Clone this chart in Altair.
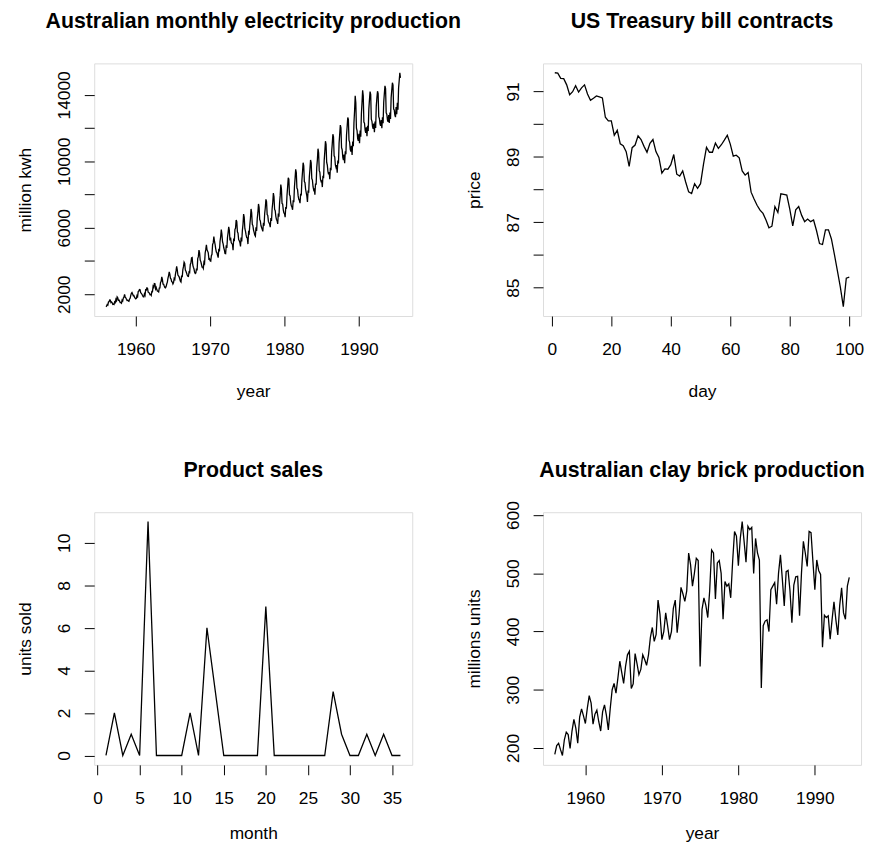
import altair as alt
import pandas as pd
import numpy as np

FONT = "Liberation Sans"

# ---------------- data ----------------
elec_start = 1956.0  # monthly, Jan 1956 - Aug 1995
elec_values = [
    1254, 1290, 1379, 1346, 1535, 1555, 1655, 1651, 1500, 1538, 1486, 1394,
    1409, 1387, 1543, 1502, 1693, 1616, 1841, 1787, 1631, 1649, 1586, 1500,
    1497, 1463, 1648, 1595, 1777, 1824, 1994, 1835, 1787, 1699, 1633, 1645,
    1597, 1577, 1709, 1756, 1936, 2052, 2105, 2016, 1914, 1925, 1824, 1765,
    1721, 1752, 1914, 1857, 2159, 2195, 2287, 2276, 2096, 2055, 2004, 1924,
    1851, 1839, 2019, 1937, 2270, 2251, 2382, 2364, 2129, 2110, 2072, 1980,
    1995, 1932, 2171, 2162, 2489, 2424, 2641, 2630, 2324, 2412, 2284, 2186,
    2184, 2144, 2379, 2383, 2717, 2774, 3051, 2891, 2613, 2600, 2493, 2410,
    2390, 2463, 2616, 2734, 2970, 3125, 3342, 3207, 2964, 2919, 2764, 2732,
    2622, 2698, 2950, 2895, 3200, 3408, 3679, 3473, 3154, 3107, 3052, 2918,
    2786, 2739, 3125, 3033, 3486, 3661, 3927, 3851, 3456, 3390, 3280, 3166,
    3080, 3069, 3340, 3310, 3798, 3883, 4191, 4213, 3766, 3628, 3520, 3322,
    3250, 3287, 3552, 3440, 4153, 4265, 4655, 4492, 4051, 3967, 3807, 3639,
    3647, 3560, 3929, 3858, 4485, 4697, 4977, 4675, 4596, 4491, 4127, 4144,
    4014, 3994, 4320, 4400, 5002, 5091, 5471, 5193, 4997, 4737, 4546, 4498,
    4350, 4206, 4743, 4582, 5191, 5457, 5891, 5618, 5158, 5030, 4800, 4654,
    4453, 4440, 4945, 4788, 5425, 5706, 6061, 5846, 5242, 5408, 5114, 5042,
    5008, 4657, 5359, 5193, 5891, 5981, 6471, 6366, 5756, 5680, 5291, 5219,
    5120, 4880, 5415, 5183, 5835, 6193, 6821, 6636, 5962, 5804, 5570, 5409,
    5387, 5021, 5727, 5669, 6166, 6559, 7135, 6900, 6211, 6133, 5862, 5730,
    5570, 5504, 6024, 5809, 6557, 6895, 7434, 7230, 6490, 6415, 6139, 6020,
    5904, 5785, 6302, 6119, 6856, 7206, 7713, 7582, 6801, 6743, 6386, 6297,
    6211, 6037, 6587, 6413, 7149, 7500, 8093, 7863, 7107, 7031, 6679, 6500,
    6433, 6231, 6859, 6671, 7483, 7921, 8604, 8341, 7461, 7426, 7084, 6897,
    6851, 6644, 7253, 7143, 7951, 8457, 9015, 8922, 7986, 7912, 7518, 7318,
    7251, 7084, 7653, 7543, 8451, 8957, 9515, 9322, 8386, 8312, 7918, 7718,
    7651, 7484, 8053, 7943, 8851, 9357, 9915, 9722, 8786, 8712, 8318, 8118,
    7920, 7560, 8240, 8110, 9050, 9520, 10080, 9910, 8960, 8870, 8470, 8290,
    8380, 7990, 8670, 8590, 9620, 10090, 10760, 10510, 9440, 9350, 8910, 8780,
    8820, 8450, 9130, 8990, 10060, 10590, 11210, 11020, 9930, 9780, 9400, 9220,
    9360, 8920, 9610, 9460, 10570, 11050, 11630, 11480, 10330, 10260, 9780, 9640,
    9780, 9320, 10050, 9870, 11090, 11620, 12180, 12010, 10820, 10700, 10240, 10080,
    10410, 9880, 10600, 10420, 11580, 12080, 12640, 12520, 11270, 11160, 10720, 10590,
    10930, 10380, 11190, 10910, 12320, 13030, 13940, 13520, 11990, 11850, 11370, 11230,
    11660, 11090, 11850, 11480, 12860, 13520, 14280, 13950, 12360, 12300, 11870, 11720,
    12050, 11510, 12140, 11820, 13140, 13700, 14200, 14010, 12540, 12410, 12090, 11960,
    12270, 11750, 12390, 12010, 13320, 13820, 14220, 14080, 12690, 12580, 12260, 12130,
    12480, 12000, 12650, 12290, 13560, 14060, 14540, 14370, 12910, 12830, 12490, 12380,
    12790, 12310, 12940, 12550, 13840, 14290, 14730, 14590, 13150, 13090, 12780, 12660,
    13260, 12840, 13520, 13110, 14420, 14860, 15330, 15020,
]

treasury_values = [
    91.57, 91.56, 91.40, 91.39, 91.20, 90.90, 90.99, 91.17, 90.98, 91.11,
    91.20, 90.92, 90.73, 90.79, 90.86, 90.83, 90.80, 90.21, 90.10, 90.10,
    89.66, 89.81, 89.40, 89.34, 89.16, 88.71, 89.28, 89.36, 89.64, 89.53,
    89.32, 89.14, 89.41, 89.53, 89.16, 88.98, 88.50, 88.63, 88.62, 88.76,
    89.07, 88.47, 88.41, 88.57, 88.23, 87.93, 87.88, 88.18, 88.04, 88.18,
    88.78, 89.29, 89.14, 89.14, 89.42, 89.26, 89.37, 89.51, 89.66, 89.39,
    89.02, 89.05, 88.97, 88.57, 88.44, 88.52, 87.92, 87.71, 87.52, 87.37,
    87.27, 87.07, 86.83, 86.88, 87.48, 87.30, 87.87, 87.85, 87.83, 87.40,
    86.89, 87.38, 87.48, 87.21, 87.02, 87.10, 87.02, 87.07, 86.74, 86.35,
    86.32, 86.77, 86.77, 86.49, 86.02, 85.52, 85.02, 84.42, 85.29, 85.32,
]

product_values = [0, 2, 0, 1, 0, 11, 0, 0, 0, 0, 2, 0,
                  6, 3, 0, 0, 0, 0, 0, 7, 0, 0, 0, 0,
                  0, 0, 0, 3, 1, 0, 0, 1, 0, 1, 0, 0]

bricks_start = 1956.0  # quarterly, 1956 Q1 - 1994 Q3
bricks_values = [
    189, 204, 208, 197, 187, 214, 227, 223, 199, 229, 249, 234,
    208, 253, 267, 255, 242, 268, 290, 277, 241, 258, 265, 245,
    229, 262, 274, 256, 231, 268, 300, 311, 294, 320, 349, 330,
    311, 340, 360, 366, 302, 310, 362, 345, 326, 335, 360, 352,
    342, 360, 390, 407, 383, 395, 454, 430, 386, 400, 432, 410,
    386, 400, 440, 454, 398, 430, 476, 465, 452, 470, 535, 515,
    478, 500, 526, 522, 340, 438, 458, 445, 424, 470, 540, 535,
    456, 518, 522, 500, 421, 486, 478, 482, 458, 520, 572, 564,
    513, 560, 589, 555, 519, 581, 575, 579, 500, 560, 535, 523,
    303, 410, 418, 420, 400, 472, 478, 484, 447, 500, 532, 490,
    444, 503, 505, 470, 415, 480, 494, 495, 427, 500, 555, 535,
    512, 572, 570, 520, 472, 523, 505, 498, 373, 428, 424, 427,
    387, 420, 451, 420, 394, 445, 475, 432, 421, 478, 493,
]

elec_df = pd.DataFrame({"year": elec_start + np.arange(len(elec_values)) / 12.0,
                        "value": elec_values})
treas_df = pd.DataFrame({"day": np.arange(1, len(treasury_values) + 1),
                         "value": treasury_values})
prod_df = pd.DataFrame({"month": np.arange(1, len(product_values) + 1),
                        "value": product_values})
brick_df = pd.DataFrame({"year": bricks_start + np.arange(len(bricks_values)) / 4.0,
                         "value": bricks_values})

W, H = 321, 255
AX = 17.5      # axis font size
TT = 21.5      # main title font size


def rdom(s):
    lo, hi = float(np.min(s)), float(np.max(s))
    p = 0.04 * (hi - lo)
    return [lo - p, hi + p]


def panel(df, xf, title, xtitle, ytitle, xticks, yticks, ylabel_expr=None, xtitle_y=81):
    yaxis_kw = dict(
        values=yticks, format="d", title=ytitle, grid=False, domain=False,
        tickSize=10, tickColor="black", tickWidth=1,
        labelAngle=270, labelAlign="center", labelBaseline="alphabetic",
        labelPadding=15, labelFont=FONT, labelFontSize=AX, labelColor="black",
        titleFont=FONT, titleFontSize=AX, titleFontWeight="normal", titleColor="black",
        titleAngle=270, titleAlign="center", titleBaseline="alphabetic",
        titleX=-64, titleY=H / 2, labelOverlap=False, labelFlush=False,
    )
    if ylabel_expr:
        yaxis_kw["labelExpr"] = ylabel_expr
    xaxis = alt.Axis(
        values=xticks, format="d", title=xtitle, grid=False, domain=False,
        tickSize=10, tickColor="black", tickWidth=1,
        labelBaseline="alphabetic", labelPadding=29, labelFont=FONT,
        labelFontSize=AX, labelColor="black", labelOverlap=False, labelFlush=False,
        titleFont=FONT, titleFontSize=AX, titleFontWeight="normal", titleColor="black",
        titleBaseline="alphabetic", titleY=xtitle_y, titleX=W / 2, titleAlign="center",
    )
    line = (
        alt.Chart(df)
        .mark_line(color="black", strokeWidth=1.3, clip=True)
        .encode(
            x=alt.X(f"{xf}:Q", scale=alt.Scale(domain=rdom(df[xf]), nice=False, zero=False),
                    axis=xaxis),
            y=alt.Y("value:Q", scale=alt.Scale(domain=rdom(df["value"]), nice=False, zero=False),
                    axis=alt.Axis(**yaxis_kw)),
        )
    )
    head = (
        alt.Chart(pd.DataFrame({"t": [title]}))
        .mark_text(font=FONT, fontSize=TT, fontWeight="bold", color="black",
                   align="center", baseline="alphabetic")
        .encode(x=alt.value(W / 2), y=alt.value(-35.5), text="t:N")
    )
    return alt.layer(line, head).properties(width=W, height=H)


p1 = panel(elec_df, "year", "Australian monthly electricity production", "year", "million kwh",
           [1960, 1970, 1980, 1990], list(range(2000, 14001, 2000)),
           "datum.value % 4000 == 2000 ? datum.label : ''")
p2 = panel(treas_df, "day", "US Treasury bill contracts", "day", "price",
           list(range(0, 101, 20)), list(range(85, 92)),
           "datum.value % 2 == 1 ? datum.label : ''")
p3 = panel(prod_df, "month", "Product sales", "month", "units sold",
           list(range(0, 36, 5)), list(range(0, 11, 2)), xtitle_y=74)
p4 = panel(brick_df, "year", "Australian clay brick production", "year", "millions units",
           [1960, 1970, 1980, 1990], list(range(200, 601, 100)), xtitle_y=74)

chart = (
    alt.concat(p1, p2, p3, p4, columns=2,
               spacing=alt.RowColnumber(row=198, column=132), bounds="flush")
    .properties(padding={"left": 8, "top": -1, "right": 0, "bottom": 0})
    .configure_view(stroke="black", strokeWidth=1)
    .configure(background="white")
)

chart.save("out.html", embed_options={"renderer": "svg", "actions": False})
